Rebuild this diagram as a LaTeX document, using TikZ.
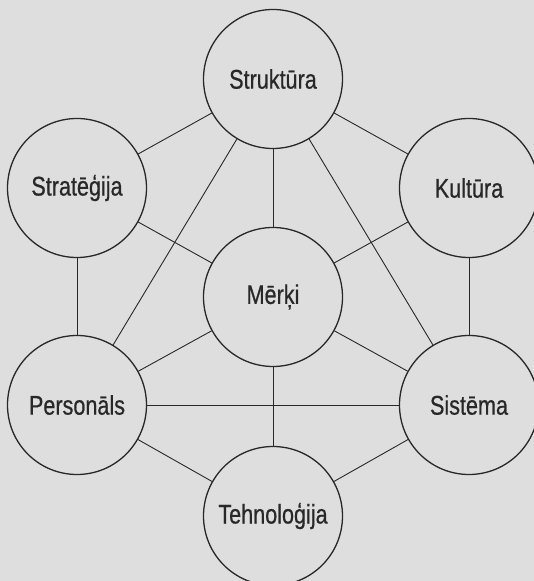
\documentclass[tikz,border=0pt]{standalone}
\usepackage{fontspec}
\setmainfont{Liberation Sans}[FakeStretch=0.8,FakeBold=0.6]
\definecolor{bgc}{RGB}{222,222,222}
\definecolor{ink}{RGB}{40,40,40}
\tikzset{
  elem/.style={circle, draw=ink, line width=1.3pt, minimum size=139pt, inner sep=0pt,
    text=ink, font=\fontsize{27}{32}\selectfont},
  link/.style={draw=ink, line width=0.9pt}
}
\begin{document}
\begin{tikzpicture}[x=1pt,y=1pt]
\fill[bgc] (0,0) rectangle (534,581);
\useasboundingbox (0,0) rectangle (534,581);
\node[elem] (str) at (273,502) {Struktūra};
\node[elem] (stg) at (77,393) {Stratēģija};
\node[elem] (kul) at (469,393) {Kultūra};
\node[elem] (mer) at (273,284) {Mērķi};
\node[elem] (per) at (77,176) {Personāls};
\node[elem] (sis) at (469,176) {Sistēma};
\node[elem] (teh) at (273,65) {Tehnoloģija};
\path[link] (str) -- (stg);
\path[link] (str) -- (kul);
\path[link] (str) -- (mer);
\path[link] (str) -- (per);
\path[link] (str) -- (sis);
\path[link] (stg) -- (mer);
\path[link] (kul) -- (mer);
\path[link] (stg) -- (per);
\path[link] (kul) -- (sis);
\path[link] (mer) -- (per);
\path[link] (mer) -- (sis);
\path[link] (mer) -- (teh);
\path[link] (per) -- (sis);
\path[link] (per) -- (teh);
\path[link] (sis) -- (teh);
\end{tikzpicture}
\end{document}
